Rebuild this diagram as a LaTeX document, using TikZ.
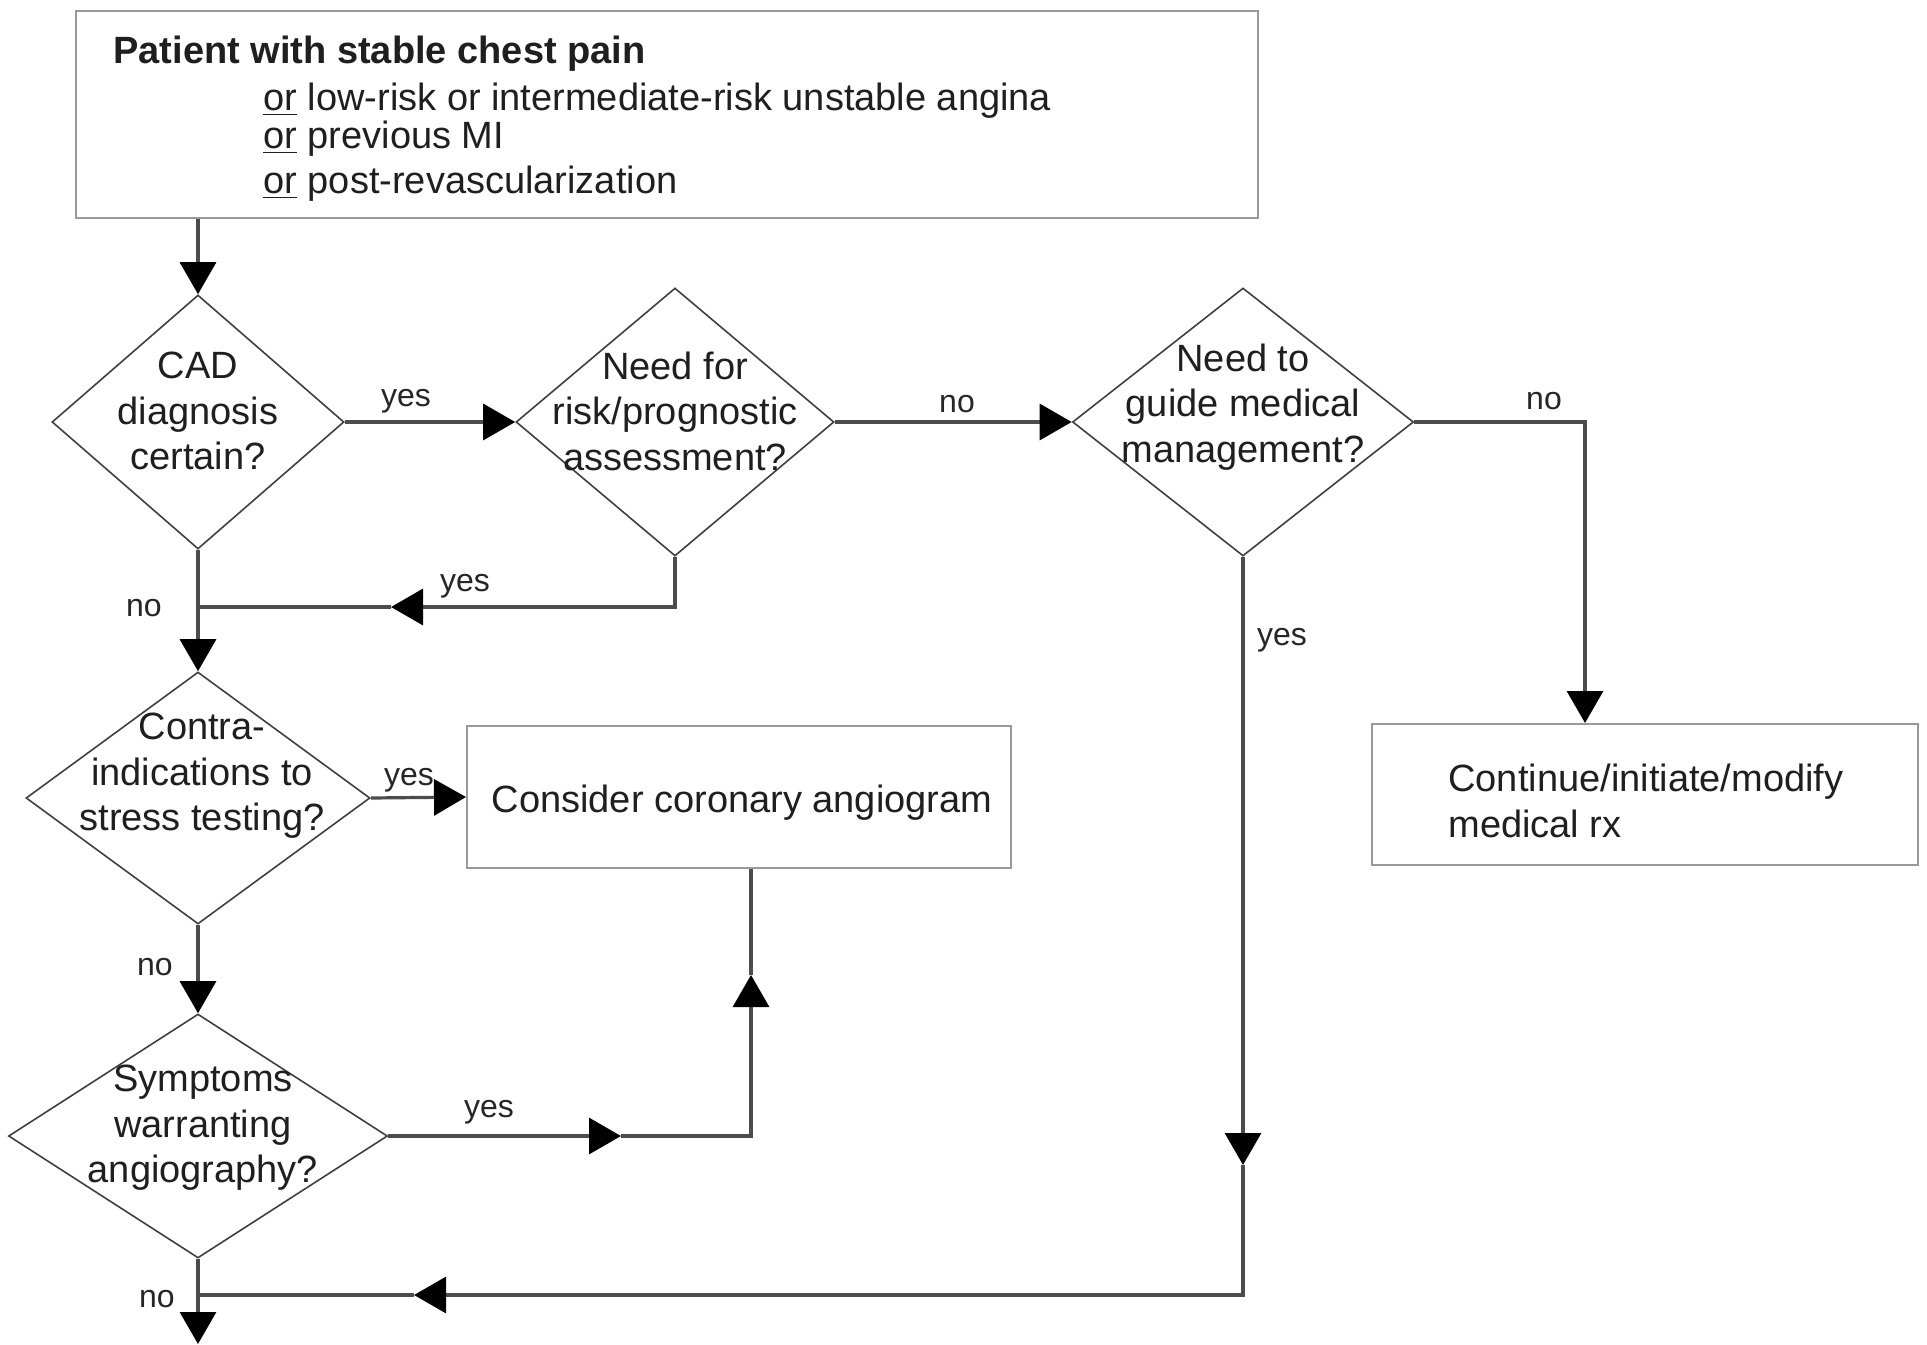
\documentclass[tikz,border=0pt]{standalone}
\usepackage{fontspec}
\setmainfont{Liberation Sans}
\usetikzlibrary{shapes.geometric,arrows.meta}
\begin{document}
\begin{tikzpicture}[x=0.5pt,y=-0.5pt,
  dia/.style={diamond, draw=black!75, line width=0.8pt, inner sep=0pt, aspect=1},
  box/.style={rectangle, draw=black!40, line width=1pt, inner sep=0pt},
  txt/.style={font=\fontsize{19}{22.75}\selectfont, text=black!88, inner sep=0pt, align=center},
  lbl/.style={font=\fontsize{16}{18}\selectfont, text=black!85, inner sep=0pt},
  conn/.style={draw=black!70, line width=1.6pt},
  arr/.style={-{Triangle[width=18pt,length=16pt,color=black]}},
]
\useasboundingbox[fill=white] (0,0) rectangle (1927,1344);

% boxes
\node[box, minimum width=591pt, minimum height=103.5pt] (top) at (667,114.5) {};
\node[txt, anchor=west, font=\fontsize{19}{22.75}\selectfont\bfseries] (t1) at (113,54) {Patient with stable chest pain};
\node[txt, anchor=west] (t2) at (263,101) {\underline{or} low-risk or intermediate-risk unstable angina};
\node[txt, anchor=west] (t3) at (263,139) {\underline{or} previous MI};
\node[txt, anchor=west] (t4) at (263,184) {\underline{or} post-revascularization};

\node[box, minimum width=272pt, minimum height=71pt] (cca) at (739,797) {};
\node[txt] (ccat) at (742,803) {Consider coronary angiogram};
\node[box, minimum width=273pt, minimum height=70.5pt] (cont) at (1645,794.5) {};
\node[txt, anchor=west, align=left] (contt) at (1448,801) {Continue/initiate/modify\\medical rx};

% diamonds
\node[dia, minimum width=146pt, minimum height=127pt] (d1) at (198,422) {};
\node[txt] (d1t) at (198,411) {CAD\\diagnosis\\certain?};
\node[dia, minimum width=159pt, minimum height=134pt] (d2) at (675,422) {};
\node[txt] (d2t) at (675,411) {Need for\\risk/prognostic\\assessment?};
\node[dia, minimum width=170.5pt, minimum height=134pt] (d3) at (1243,422) {};
\node[txt] (d3t) at (1243,407) {Need to\\guide medical\\management?};
\node[dia, minimum width=172pt, minimum height=126pt] (d4) at (198,798) {};
\node[txt] (d4t) at (202,776) {Contra-\\indications to\\stress testing?};
\node[dia, minimum width=189.5pt, minimum height=122pt] (d5) at (198,1136) {};
\node[txt] (d5t) at (203,1128) {Symptoms\\warranting\\angiography?};

% coordinates
\coordinate (c3) at (1585,422);
\coordinate (a3) at (1243,1165);
\coordinate (c4) at (1243,1295);
\coordinate (a4) at (414,1295);
\coordinate (j5) at (198,1295);
\coordinate (c2) at (675,607);
\coordinate (a2) at (391,607);
\coordinate (j2) at (198,607);
\coordinate (a5) at (621,1136);
\coordinate (c5) at (751,1136);
\coordinate (a6) at (751,975);
\coordinate (bot) at (198,1344);

% connectors
\draw[conn,arr] (top.south -| d1.north) -- (d1.north);
\draw[conn,arr] (d1.east) -- (d2.west);
\draw[conn,arr] (d2.east) -- (d3.west);
\draw[conn,arr] (d3.east) -- (c3) -- (c3 |- cont.north);
\draw[conn,arr] (d3.south) -- (a3);
\draw[conn,arr] (a3) -- (c4) -- (a4);
\draw[conn] (a4) -- (j5);
\draw[conn,arr] (d2.south) -- (c2) -- (a2);
\draw[conn] (a2) -- (j2);
\draw[conn,arr] (d1.south) -- (d4.north);
\draw[conn,arr] (d4.east) -- (cca.west);
\draw[conn,arr] (d4.south) -- (d5.north);
\draw[conn,arr] (d5.east) -- (a5);
\draw[conn,arr] (a5) -- (c5) -- (a6);
\draw[conn] (a6) -- (a6 |- cca.south);
\draw[conn] (d5.south) -- (j5);
\draw[conn,arr] (j5) -- (bot);

% labels
\node[lbl] (l1) at (406,401) {yes};
\node[lbl] (l2) at (957,404) {no};
\node[lbl] (l3) at (1544,401) {no};
\node[lbl] (l4) at (1282,640) {yes};
\node[lbl] (l5) at (465,586) {yes};
\node[lbl] (l6) at (144,608) {no};
\node[lbl] (l7) at (409,780) {yes};
\node[lbl] (l8) at (155,967) {no};
\node[lbl] (l9) at (489,1112) {yes};
\node[lbl] (l10) at (157,1299) {no};
\end{tikzpicture}
\end{document}
